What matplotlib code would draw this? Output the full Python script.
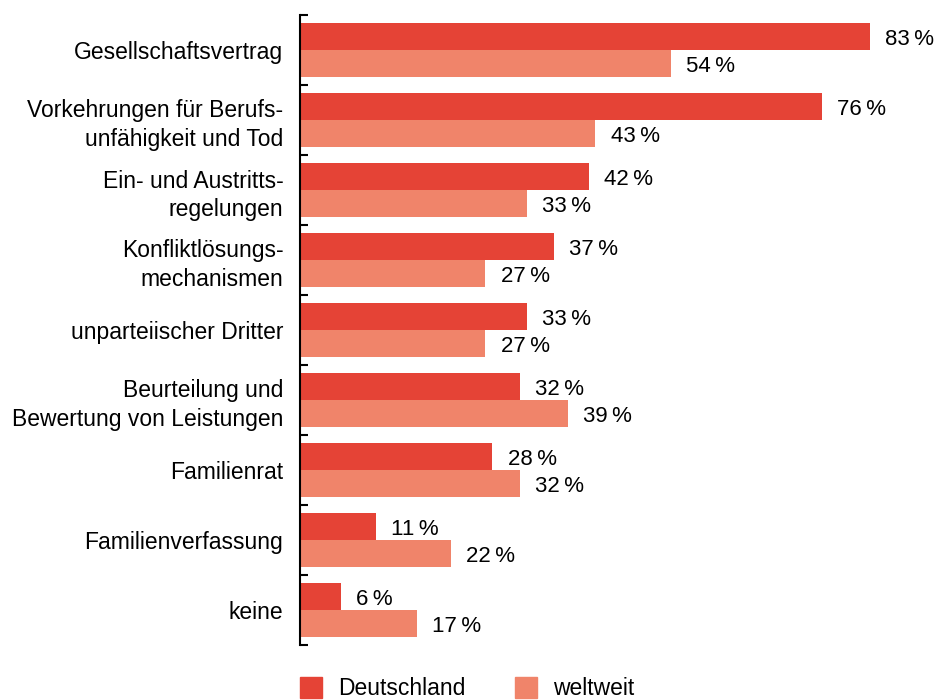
import matplotlib.pyplot as plt
from matplotlib.patches import Patch

plt.rcParams['font.family'] = ['Liberation Sans', 'DejaVu Sans']

# Daten aus der Grafik
kategorien = ['Gesellschaftsvertrag', 'Vorkehrungen für Berufs-\nunfähigkeit und Tod',
              'Ein- und Austritts-\nregelungen', 'Konfliktlösungs-\nmechanismen',
              'unparteiischer Dritter', 'Beurteilung und\nBewertung von Leistungen',
              'Familienrat', 'Familienverfassung', 'keine']
deutschland = [83, 76, 42, 37, 33, 32, 28, 11, 6]
weltweit = [54, 43, 33, 27, 27, 39, 32, 22, 17]
reihen = ['Deutschland', 'weltweit']

farbe_de = '#E54336'
farbe_ww = '#F0846A'

W, H = 936, 700
fig = plt.figure(figsize=(W / 100, H / 100), dpi=100)

# Achse: x=0 bei 300px, 6.87 px pro %, y von 15px bis 645px
xmax = 92
ax = fig.add_axes([300 / W, 1 - 645 / H, xmax * 6.87 / W, 630 / H])

n = len(kategorien)
pos = list(range(n))
h = 27 / 70
y_de = [p - h / 2 for p in pos]
y_ww = [p + h / 2 for p in pos]

ax.barh(y_de, deutschland, height=h, color=farbe_de, linewidth=0)
ax.barh(y_ww, weltweit, height=h, color=farbe_ww, linewidth=0)

for y, v in zip(y_de, deutschland):
    ax.annotate(f'{v}\u2009%', (v, y), xytext=(11, -2), textcoords='offset points',
                va='center', ha='left', fontsize=16)
for y, v in zip(y_ww, weltweit):
    ax.annotate(f'{v}\u2009%', (v, y), xytext=(11, -2), textcoords='offset points',
                va='center', ha='left', fontsize=16)

ax.set_xlim(0, xmax)
ax.set_ylim(n - 0.5, -0.5)
ax.set_xticks([])
ax.set_yticks([i - 0.5 for i in range(n + 1)])
ax.set_yticklabels([])
ax.tick_params(axis='y', which='major', direction='in', length=6, width=1.5)
ax.set_yticks(pos, minor=True)
ax.set_yticklabels(kategorien, minor=True, fontsize=16.5, ha='right', linespacing=1.3)
ax.tick_params(axis='y', which='minor', length=0, pad=12)

for s in ['top', 'right', 'bottom']:
    ax.spines[s].set_visible(False)
ax.spines['left'].set_linewidth(1.5)

handles = [Patch(color=farbe_de, label=reihen[0]), Patch(color=farbe_ww, label=reihen[1])]
fig.legend(handles=handles, loc='upper left', bbox_to_anchor=(300 / W, 1 - 677 / H),
           ncol=2, frameon=False, fontsize=16.5, handlelength=0.97, handleheight=1.0,
           handletextpad=0.7, columnspacing=2.15, borderaxespad=0, borderpad=0)

fig.savefig('out.png', dpi=100)
